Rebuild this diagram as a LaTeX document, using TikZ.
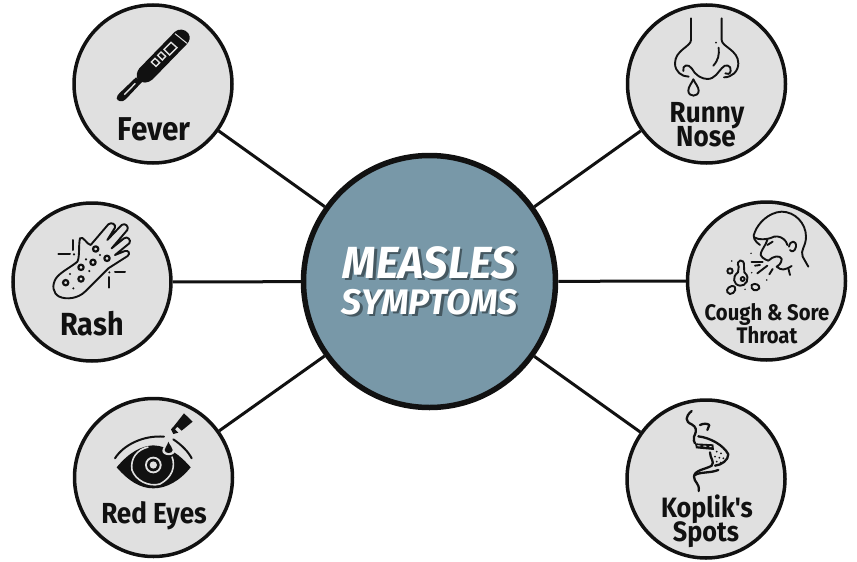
\documentclass[tikz,border=0pt]{standalone}
\usepackage{fontspec}
\setmainfont{Fira Sans}[Ligatures=TeXOff,FakeStretch=0.9]
\newfontfamily\titleone{Fira Sans}[FakeStretch=0.96]
\newfontfamily\titletwo{Fira Sans}[FakeStretch=1.0]
\definecolor{ink}{HTML}{111111}
\definecolor{disc}{HTML}{E0E0E0}
\definecolor{hub}{HTML}{7898A8}
\tikzset{
  sat/.style={circle,draw=ink,fill=disc,line width=3.5pt,minimum size=158pt,inner sep=0pt},
  hubdisc/.style={circle,draw=ink,fill=hub,line width=5.5pt,minimum size=252pt,inner sep=0pt},
  link/.style={draw=ink,line width=3pt},
  lab/.style={anchor=base,inner sep=0pt,text=ink,font=\bfseries},
  ttl/.style={anchor=base,inner sep=0pt,text=white},
  shd/.style={anchor=base,inner sep=0pt,text=black,opacity=.42},
  ico/.style={draw=ink,line width=1.9pt,line cap=round,line join=round},
  icf/.style={fill=ink,draw=none},
  gap/.style={fill=disc,draw=none}
}
\begin{document}
\begin{tikzpicture}[x=1pt,y=-1pt]
\useasboundingbox (0,0) rectangle (857,562);
\node[hubdisc] (c) at (429.5,281.5) {};
\node[sat] (fever) at (153,84) {};
\node[sat] (rash) at (92,282) {};
\node[sat] (eyes) at (153.5,477.5) {};
\node[sat] (nose) at (706.5,84) {};
\node[sat] (cough) at (766.5,281) {};
\node[sat] (koplik) at (706,479) {};
\draw[link] (c) -- (fever);
\draw[link] (c) -- (rash);
\draw[link] (c) -- (eyes);
\draw[link] (c) -- (nose);
\draw[link] (c) -- (cough);
\draw[link] (c) -- (koplik);
% title
\node[shd] (t1s) at (432,280.5) {\fontsize{45}{45}\titleone\bfseries\itshape MEASLES};
\node[shd] (t2s) at (432,316.5) {\fontsize{35.5}{35.5}\titletwo\bfseries\itshape SYMPTOMS};
\node[ttl] (t1) at (429.5,278) {\fontsize{45}{45}\titleone\bfseries\itshape MEASLES};
\node[ttl] (t2) at (429.5,314) {\fontsize{35.5}{35.5}\titletwo\bfseries\itshape SYMPTOMS};
% labels
\node[lab] (l1) at (154,140) {\fontsize{33}{33}\selectfont Fever};
\node[lab] (l2) at (92,335.5) {\fontsize{32}{32}\selectfont Rash};
\node[lab] (l3) at (154,523.5) {\fontsize{29}{29}\selectfont Red Eyes};
\node[lab] (l4) at (707,122) {\fontsize{29}{29}\selectfont Runny};
\node[lab] (l5) at (706,146) {\fontsize{29}{29}\selectfont Nose};
\node[lab] (l6) at (767,320) {\fontsize{22.5}{22.5}\selectfont Cough \& Sore};
\node[lab] (l7) at (767,343) {\fontsize{22.5}{22.5}\selectfont Throat};
\node[lab] (l8) at (707,517) {\fontsize{28}{28}\selectfont Koplik's};
\node[lab] (l9) at (706,541) {\fontsize{28}{28}\selectfont Spots};
% thermometer
\begin{scope}[shift={(60,0)},scale=1/3]
\path[icf] (345,95) .. controls (355,86) and (375,86) .. (385,100) .. controls (392,112) and (390,122) .. (380,133) -- (278,238) .. controls (265,250) and (245,252) .. (233,238) .. controls (228,228) and (230,215) .. (238,205) -- cycle;
\path[icf] (228,232) -- (246,246) -- (197,298) .. controls (187,308) and (172,304) .. (170,295) .. controls (170,288) and (175,282) .. (180,278) -- cycle;
\draw[disc,line width=1pt] (345,101) -- (381,130);
\draw[disc,line width=1.4pt] (193,284) -- (226,250);
\draw[disc,line width=1.4pt] (312,148) -- (333,127) -- (351,143) -- (329,165) -- cycle;
\draw[disc,line width=1.4pt] (293,166) -- (303,156) -- (317,169) -- (307,180) -- cycle;
\draw[disc,line width=1.4pt] (274,186) -- (285,175) -- (299,188) -- (288,199) -- cycle;
\end{scope}
% hand
\begin{scope}[shift={(0,195)},scale=1/3]
\draw[ico] (232,200) .. controls (215,215) and (180,232) .. (168,250) .. controls (155,270) and (158,295) .. (178,305) .. controls (200,315) and (235,310) .. (255,290) -- (325,220) -- (383,183) .. controls (392,175) and (385,165) .. (375,168) -- (345,180) -- (388,145) .. controls (395,135) and (382,122) .. (372,130) -- (335,160) -- (382,105) .. controls (388,95) and (375,82) .. (365,90) -- (322,135) -- (345,98) .. controls (348,88) and (335,80) .. (325,88) -- (272,150) .. controls (262,150) and (248,120) .. (240,130) .. controls (235,150) and (240,185) .. (232,200);
\foreach \a/\b in {287/162,321/190,279/202,243/217,243/252,197/263} \draw[ico,line width=2.2pt] (\a,\b) circle (8);
\foreach \a/\b in {300/180,258/193,210/237,268/228,220/280,222/178,328/232} \fill[ink] (\a,\b) circle (3.5);
\draw[ico,line width=2pt] (175,178) -- (210,178);
\draw[ico,line width=2pt] (220,135) -- (220,165);
\draw[ico,line width=2pt] (345,232) -- (375,232);
\draw[ico,line width=2pt] (328,246) -- (328,278);
\end{scope}
% eye
\begin{scope}[shift={(60,390)},scale=1/3]
\path[icf] (170,232) .. controls (205,190) and (240,168) .. (280,166) .. controls (325,168) and (360,195) .. (392,232) .. controls (360,272) and (320,295) .. (280,295) .. controls (240,295) and (205,272) .. (170,232) -- cycle;
\draw[disc,line width=1.6pt] (336,200) .. controls (347,230) and (337,262) .. (300,282) .. controls (265,292) and (226,270) .. (216,240) .. controls (210,205) and (232,178) .. (265,171);
\fill[disc] (280,225) circle (25);
\fill[ink] (280,225) circle (19);
\fill[disc] (280,225) circle (11);
\draw[ico,line width=2pt] (165,205) .. controls (190,165) and (250,135) .. (312,140);
\draw[ico,line width=2pt] (340,148) .. controls (365,165) and (385,185) .. (395,205);
\path[gap] (325,148) .. controls (332,165) and (345,172) .. (345,182) .. controls (345,200) and (307,200) .. (307,182) .. controls (307,172) and (318,165) .. (325,148) -- cycle;
\path[icf] (325,155) .. controls (330,168) and (338,172) .. (338,180) .. controls (338,192) and (314,192) .. (314,180) .. controls (314,172) and (322,168) .. (325,155) -- cycle;
\path[icf] (372,70) -- (398,95) -- (365,122) -- (352,110) -- (345,118) -- (355,128) -- (340,132) -- (333,118) -- (342,108) -- cycle;
\end{scope}
% nose
\begin{scope}[shift={(620,0)},scale=1/3]
\draw[ico] (213,55) -- (213,120) .. controls (213,140) and (165,150) .. (165,190) .. controls (165,215) and (185,230) .. (206,230);
\draw[ico] (190,213) .. controls (186,195) and (205,190) .. (215,205) .. controls (225,225) and (245,237) .. (262,237) .. controls (285,237) and (295,215) .. (305,205) .. controls (315,190) and (335,195) .. (332,213) .. controls (330,222) and (322,225) .. (316,220);
\draw[ico] (305,55) -- (305,120) .. controls (305,140) and (355,150) .. (355,190) .. controls (355,215) and (335,232) .. (312,232);
\draw[ico] (296,143) .. controls (298,165) and (295,180) .. (280,197);
\fill[ink] (288,128) circle (3);
\draw[ico] (220,238) .. controls (225,250) and (236,260) .. (236,272) .. controls (236,292) and (205,292) .. (205,272) .. controls (205,260) and (215,250) .. (220,238) -- cycle;
\end{scope}
% cough
\begin{scope}[shift={(680,195)},scale=1/3]
\draw[ico] (240,150) .. controls (225,140) and (215,125) .. (225,110) .. controls (235,85) and (265,52) .. (305,50) .. controls (345,50) and (378,85) .. (378,125) .. controls (378,155) and (360,165) .. (368,185) -- (385,215);
\draw[ico] (222,127) .. controls (235,135) and (262,135) .. (282,125) .. controls (295,122) and (310,128) .. (318,140) -- (322,150);
\draw[ico] (262,150) -- (278,140);
\draw[ico] (262,135) .. controls (258,150) and (240,170) .. (242,180) -- (248,188) .. controls (258,190) and (255,198) .. (265,197) .. controls (280,182) and (300,180) .. (305,192) .. controls (305,205) and (295,212) .. (290,215) .. controls (305,228) and (315,225) .. (335,213);
\draw[ico] (325,220) -- (330,240);
\draw[ico] (327,155) .. controls (330,135) and (350,135) .. (348,155) .. controls (345,170) and (335,172) .. (330,165);
\draw[ico] (215,200) -- (248,200);
\draw[ico] (232,235) -- (262,212);
\draw[ico] (268,238) -- (278,222);
\draw[ico] (225,212) -- (240,210);
\foreach \a/\b in {155/198,213/175,195/283,260/255,192/205,215/233} \fill[ink] (\a,\b) circle (2.5);
\draw[ico] (174,232) -- (176,215) .. controls (165,195) and (195,185) .. (192,215) -- (193,232) .. controls (215,250) and (195,275) .. (180,272) .. controls (160,270) and (155,245) .. (174,232) -- cycle;
\draw[ico] (188,252) circle (6);
\draw[ico] (150,228) circle (8);
\draw[ico] (155,273) .. controls (175,272) and (165,298) .. (150,297) .. controls (135,292) and (140,277) .. (155,273) -- cycle;
\draw[ico] (215,270) .. controls (225,262) and (240,270) .. (238,280) .. controls (230,292) and (210,285) .. (215,270) -- cycle;
\end{scope}
% mouth
\begin{scope}[shift={(620,395)},scale=1/3]
\draw[ico,line width=2.3pt] (215,48) .. controls (195,65) and (195,80) .. (215,88) .. controls (228,95) and (232,105) .. (222,125) .. controls (220,135) and (222,140) .. (225,145);
\draw[ico,line width=2.3pt] (240,90) .. controls (250,85) and (262,85) .. (268,90) -- (262,105);
\draw[ico,line width=2.3pt] (235,124) .. controls (270,128) and (310,150) .. (325,178) .. controls (325,195) and (305,210) .. (285,212);
\path[icf] (225,145) -- (280,148) -- (282,165) -- (228,160) -- cycle;
\draw[disc,line width=1pt,dashed] (232,152) -- (275,155);
\draw[ico,line width=2.3pt] (270,172) .. controls (270,190) and (285,200) .. (275,212) .. controls (260,222) and (222,225) .. (222,245) .. controls (222,262) and (240,265) .. (236,288);
\draw[ico,line width=2.3pt] (225,240) .. controls (240,230) and (270,235) .. (295,225);
\foreach \a/\b in {290/170,303/175,285/185,298/188,310/190,290/200,302/203} \fill[ink] (\a,\b) circle (3);
\end{scope}
\end{tikzpicture}
\end{document}
